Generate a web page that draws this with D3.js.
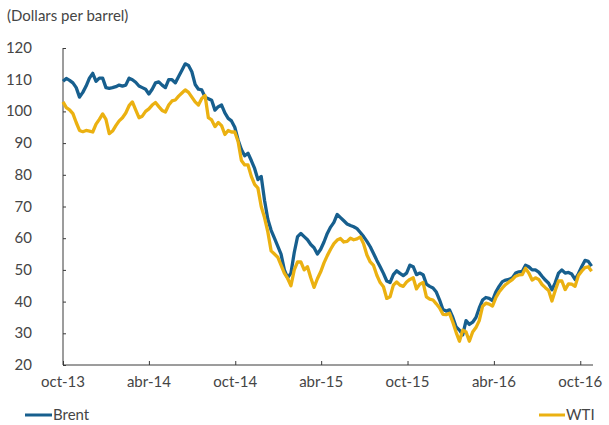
<!DOCTYPE html>
<html>
<head>
<meta charset="utf-8">
<script src="https://cdn.jsdelivr.net/npm/d3@7"></script>
<style>
  html, body { margin: 0; padding: 0; background: #fff; }
  svg { display: block; }
  text { font-family: Lato, "Open Sans", sans-serif; fill: #454545; }
</style>
</head>
<body>
<div id="chart"></div>
<script>
// ---- Data (weekly readings, starting 1 Oct 2013) ----
const startDate = "2013-10-01";
const endDate = "2016-10-28";
const brent = [
  109.5,110.4,109.8,109.0,107.5,104.5,106.0,108.0,110.5,112.0,
  109.5,110.5,110.5,107.5,107.3,107.5,107.8,108.3,108.0,108.3,
  110.5,110.0,109.2,108.0,107.5,107.0,105.5,107.0,109.0,109.3,
  108.3,107.5,110.0,110.0,109.0,111.0,113.0,115.0,114.5,112.5,
  108.5,107.0,106.8,104.5,104.0,103.5,100.4,101.5,102.0,99.5,
  97.8,97.0,95.0,91.0,88.0,86.0,86.8,84.5,82.0,78.5,
  79.5,72.0,66.0,62.5,60.0,57.5,55.0,50.0,47.5,49.0,
  55.5,60.5,61.5,60.5,59.5,58.0,57.0,55.0,56.5,58.8,
  61.5,63.5,65.0,67.5,66.5,65.5,64.5,64.0,63.6,63.0,
  61.8,60.5,59.0,57.3,55.2,53.0,51.0,48.9,46.5,46.0,
  48.5,49.7,48.9,48.2,49.0,51.5,51.0,48.5,49.0,48.5,
  45.5,44.8,44.3,43.0,40.5,37.5,37.0,37.4,35.0,32.0,
  31.0,29.5,34.0,32.8,33.5,35.0,38.0,40.5,41.3,41.0,
  40.3,43.0,44.8,46.3,46.8,47.0,47.5,49.0,49.4,49.5,
  51.5,51.0,50.0,50.0,49.3,48.0,46.8,45.8,43.7,46.0,
  49.0,50.0,49.0,49.2,48.7,47.0,48.8,51.0,53.0,52.7,
  51.2
];
const wti = [
  103.0,101.2,100.5,99.3,96.5,94.0,93.6,94.0,93.8,93.5,
  96.0,97.5,99.2,97.5,93.0,93.8,95.5,97.0,98.0,99.5,
  101.8,103.0,100.5,98.0,98.5,100.0,100.8,102.0,102.8,101.5,
  100.3,99.8,102.0,103.3,103.6,104.8,105.8,106.8,106.0,104.5,
  103.0,102.0,104.1,105.0,98.0,97.3,95.2,96.5,95.5,92.7,
  94.0,93.5,93.5,90.5,84.5,83.1,83.1,79.5,77.0,75.8,
  70.0,66.5,62.0,56.0,55.0,54.0,51.5,49.0,47.3,45.0,
  50.0,52.5,52.5,50.0,51.0,47.5,44.5,47.2,49.4,52.2,
  54.5,56.5,58.3,59.4,59.9,58.8,59.0,60.0,59.5,59.8,
  60.4,58.2,54.7,52.5,51.4,48.3,46.0,44.7,41.0,41.5,
  45.2,46.2,45.2,44.8,46.2,47.0,47.5,44.0,45.5,46.0,
  41.5,40.8,40.5,39.3,38.0,36.0,35.9,36.3,33.5,30.3,
  27.5,31.0,30.4,27.5,30.4,31.8,34.0,38.5,39.5,39.2,
  38.6,41.2,43.0,44.3,45.4,46.2,46.9,48.0,48.4,48.5,
  50.5,49.0,46.8,47.5,47.0,45.4,44.4,43.5,40.2,43.5,
  46.5,46.5,43.8,45.6,45.5,44.8,48.2,49.6,50.7,51.0,
  49.6
];
const yTicks = [20, 30, 40, 50, 60, 70, 80, 90, 100, 110, 120];
const xTickDates = ["2013-10-01","2014-04-01","2014-10-01","2015-04-01","2015-10-01","2016-04-01","2016-10-01"];
const xTickLabels = ["oct-13","abr-14","oct-14","abr-15","oct-15","abr-16","oct-16"];
const seriesNames = ["Brent", "WTI"];
const seriesColors = ["#175f8e", "#ebb111"];
const yLabel = "(Dollars per barrel)";

// ---- Layout ----
const W = 609, H = 425;
const margin = { left: 63, right: 16, top: 48, bottom: 60 };
const parse = d3.utcParse("%Y-%m-%d");
const start = parse(startDate);
const dates = brent.map((_, i) => d3.utcDay.offset(start, 7 * i));
const fs = 15;

const svg = d3.select("#chart").append("svg").attr("width", W).attr("height", H);

const x = d3.scaleUtc().domain([start, parse(endDate)]).range([margin.left, W - margin.right]);
const y = d3.scaleLinear().domain([20, 120]).range([H - margin.bottom, margin.top]);

// y label
svg.append("text").attr("x", 7).attr("y", 21).attr("font-size", fs).text(yLabel);

// Axes
const axisColor = "#3a3a3a";
const yAxis = svg.append("g").attr("transform", `translate(${margin.left},0)`)
  .call(d3.axisRight(y).tickValues(yTicks).tickSize(3).tickFormat(""));
yAxis.select(".domain").attr("stroke", axisColor).attr("d", `M0,${y(120)}V${y(20)}`);
yAxis.selectAll(".tick line").attr("stroke", axisColor);

svg.append("g").selectAll("text").data(yTicks).join("text")
  .attr("x", 32).attr("y", d => y(d) + 5).attr("text-anchor", "end")
  .attr("font-size", fs).text(d => d);

const xAxis = svg.append("g").attr("transform", `translate(0,${y(20)})`)
  .call(d3.axisTop(x).tickValues(xTickDates.map(parse)).tickSize(4).tickFormat(""));
xAxis.select(".domain").attr("stroke", axisColor).attr("d", `M${margin.left},0H${W - margin.right}`);
xAxis.selectAll(".tick line").attr("stroke", axisColor);

svg.append("g").selectAll("text").data(xTickDates).join("text")
  .attr("x", d => x(parse(d))).attr("y", y(20) + 22).attr("text-anchor", "middle")
  .attr("font-size", fs).text((d, i) => xTickLabels[i]);

// Lines
const line = d3.line().x((d, i) => x(dates[i])).y(d => y(d)).curve(d3.curveLinear);
[brent, wti].forEach((s, k) => {
  svg.append("path").datum(s).attr("fill", "none")
    .attr("stroke", seriesColors[k]).attr("stroke-width", 3.3)
    .attr("stroke-linejoin", "round").attr("d", line);
});

// Legend
const legendPos = [{ x1: 25, x2: 52, tx: 53 }, { x1: 539, x2: 565, tx: 566 }];
seriesNames.forEach((n, k) => {
  const p = legendPos[k];
  svg.append("line").attr("x1", p.x1).attr("x2", p.x2).attr("y1", 415).attr("y2", 415)
    .attr("stroke", seriesColors[k]).attr("stroke-width", 3);
  svg.append("text").attr("x", p.tx).attr("y", 420).attr("font-size", fs).text(n);
});
</script>
</body>
</html>
